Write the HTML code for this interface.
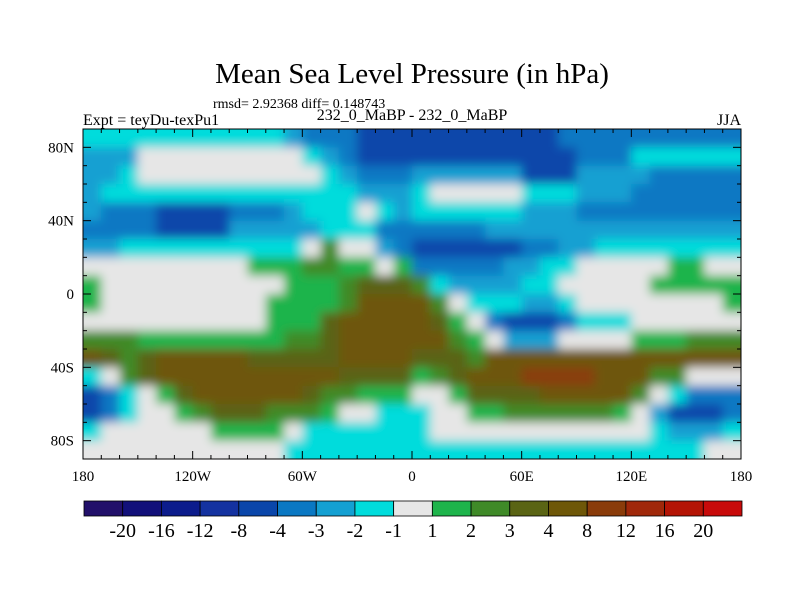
<!DOCTYPE html>
<html><head><meta charset="utf-8"><style>
body{margin:0;background:#fff;}
svg{display:block;font-family:"Liberation Serif",serif;}
</style></head><body>
<svg id="chart" width="800" height="600" viewBox="0 0 800 600">
<defs>
<clipPath id="plotclip"><rect x="83" y="129" width="658" height="330"/></clipPath>
<filter id="smooth" filterUnits="userSpaceOnUse" x="40" y="90" width="745" height="410"><feGaussianBlur stdDeviation="5"/></filter>
</defs>
<text x="412" y="83" text-anchor="middle" font-size="29">Mean Sea Level Pressure (in hPa)</text>
<text x="213" y="108" font-size="14">rmsd= 2.92368 diff= 0.148743</text>
<text x="83" y="125" font-size="16">Expt = teyDu-texPu1</text>
<text x="412" y="120" text-anchor="middle" font-size="16">232_0_MaBP - 232_0_MaBP</text>
<text x="741" y="125" text-anchor="end" font-size="16">JJA</text>
<g clip-path="url(#plotclip)"><rect x="83" y="129" width="658" height="330" fill="#e6e6e6"/><g filter="url(#smooth)"><g id="cells"></g></g></g>
<rect x="83" y="129" width="658" height="330" fill="none" stroke="#000" stroke-width="1"/>
<g id="ticks"></g>
<g id="colorbar"></g>
</svg>
<script>
const levels=[-20,-16,-12,-8,-4,-3,-2,-1,1,2,3,4,8,12,16,20];
const colors=["#22106a","#12107a","#0c1c8c","#1432a0","#0a46aa","#0a78c3","#14a0d2","#00dcdc","#e6e6e6","#1eb44b","#3f8a28","#5a6414","#6e5708","#8a3c0a","#a0280a","#b41405","#c80a0a"];
const xTickLabels=["180","120W","60W","0","60E","120E","180"];
const yTickLabels=["80N","40N","0","40S","80S"];
const yTickValues=[80,40,0,-40,-80];
// grid values: 18 lat rows (90N..90S, 10 deg), 36 lon cols (180W..180E, 10 deg)
const grid=[
[-1.5,-1.5,-1.5,-1.5,-1.5,-1.5,-1.5,-1.5,-1.5,-1.5,-1.5,-2.5,-3.5,-3.5,-3.5,-6,-6,-6, -6,-6,-6,-6,-6,-6,-6,-6,-3.5,-3.5,-3.5,-3.5,-3.5,-3.5,-3.5,-3.5,-3.5,-3.5],
[-2.5,-2.5,-2.5,0,0,0,0,0,0,0,0,0,-1.5,-2.5,-3.5,-6,-6,-6, -6,-6,-6,-6,-6,-6,-6,-6,-6,-3.5,-3.5,-3.5,-1.5,-1.5,-1.5,-1.5,-1.5,-1.5],
[-2.5,-2.5,-1.5,0,0,0,0,0,0,0,0,0,0,-1.5,-2.5,-3.5,-3.5,-3.5, -2.5,-2.5,-2.5,-2.5,-2.5,-2.5,-6,-6,-6,-2.5,-2.5,-2.5,-2.5,-3.5,-3.5,-3.5,-3.5,-3.5],
[-2.5,-1.5,-1.5,-1.5,-1.5,-1.5,-1.5,-1.5,-1.5,-1.5,-1.5,-1.5,-1.5,-1.5,-1.5,-2.5,-2.5,-2.5, -1.5,0,0,0,0,0,-1.5,-1.5,-1.5,-2.5,-2.5,-2.5,-3.5,-3.5,-3.5,-3.5,-3.5,-3.5],
[-2.5,-3.5,-3.5,-3.5,-6,-6,-6,-6,-3.5,-3.5,-3.5,-2.5,-1.5,-1.5,-1.5,0,-1.5,-2.5, -1.5,-1.5,-1.5,-1.5,-1.5,-1.5,-2.5,-2.5,-2.5,-3.5,-3.5,-3.5,-3.5,-3.5,-3.5,-3.5,-3.5,-3.5],
[-3.5,-3.5,-3.5,-3.5,-6,-6,-6,-6,-2.5,-2.5,-2.5,-2.5,-2.5,-1.5,-1.5,-1.5,-3.5,-3.5, -3.5,-3.5,-3.5,-3.5,-2.5,-2.5,-2.5,-2.5,-2.5,-2.5,-2.5,-2.5,-2.5,-2.5,-2.5,-2.5,-2.5,-2.5],
[-2.5,-2.5,-1.5,-1.5,-1.5,-1.5,-1.5,-1.5,-1.5,-1.5,-1.5,-1.5,0,2.5,0,0,-2.5,-3.5, -6,-6,-6,-6,-6,-6,-3.5,-3.5,-2.5,-2.5,-1.5,-1.5,-1.5,-1.5,-1.5,-1.5,-1.5,-1.5],
[0,0,0,0,0,0,0,0,0,1.5,1.5,1.5,2.5,2.5,1.5,1.5,0,1.5, -3.5,-3.5,-3.5,-3.5,-3.5,-2.5,-2.5,-1.5,-1.5,0,0,0,0,0,1.5,1.5,0,0],
[1.5,0,0,0,0,0,0,0,0,0,0,1.5,1.5,1.5,2.5,3.5,3.5,3.5, 2.5,-1.5,-2.5,-2.5,-2.5,-2.5,-1.5,-1.5,0,0,0,0,0,1.5,1.5,1.5,1.5,1.5],
[1.5,0,0,0,0,0,0,0,0,0,1.5,1.5,1.5,1.5,2.5,6,6,6, 6,2.5,0,-1.5,-1.5,-1.5,-2.5,-2.5,-1.5,0,0,0,0,0,0,0,0,1.5],
[0,0,0,0,0,0,0,0,0,0,1.5,1.5,1.5,3.5,6,6,6,6, 6,3.5,1.5,0,-3.5,-6,-6,-6,-3.5,-1.5,-1.5,-1.5,0,0,0,0,0,0],
[2.5,2.5,2.5,1.5,1.5,1.5,1.5,1.5,1.5,1.5,1.5,2.5,2.5,3.5,6,6,6,6, 6,6,2.5,1.5,0,-2.5,-2.5,-2.5,0,0,0,0,1.5,1.5,1.5,2.5,2.5,2.5],
[6,3.5,2.5,3.5,6,6,6,6,6,3.5,3.5,3.5,3.5,3.5,6,6,6,6, 3.5,3.5,3.5,2.5,6,6,6,6,6,6,6,6,6,6,6,6,6,6],
[-1.5,0,2.5,3.5,6,6,6,6,6,6,6,6,6,6,3.5,3.5,3.5,3.5, 1.5,2.5,3.5,6,6,6,10,10,10,10,6,6,6,2.5,2.5,0,0,0],
[-6,-3.5,-1.5,0,1.5,3.5,6,6,6,6,6,6,3.5,2.5,2.5,1.5,1.5,1.5, 0,0,1.5,3.5,3.5,3.5,3.5,6,6,6,6,6,2.5,0,-1.5,-3.5,-3.5,-3.5],
[-6,-3.5,-1.5,0,0,1.5,2.5,3.5,3.5,3.5,2.5,2.5,2.5,1.5,0,0,-1.5,-1.5, -1.5,0,0,1.5,1.5,2.5,2.5,2.5,2.5,2.5,2.5,1.5,0,-2.5,-6,-6,-6,-3.5],
[-1.5,0,0,0,0,0,0,1.5,1.5,1.5,1.5,0,-1.5,-1.5,-1.5,-1.5,-1.5,-1.5, -1.5,0,0,0,0,0,0,0,0,0,0,0,0,-1.5,-2.5,-2.5,-2.5,-1.5],
[0,0,0,0,0,0,0,0,0,0,0,-1.5,-1.5,-1.5,-1.5,-1.5,-1.5,-1.5, -1.5,-1.5,-1.5,-1.5,-1.5,-1.5,-1.5,-1.5,-1.5,-1.5,-1.5,-1.5,-1.5,-1.5,-1.5,-1.5,0,0]
];
const NS="http://www.w3.org/2000/svg";
const X0=83,X1=741,Y0=129,Y1=459;
function xScale(lon){return X0+(lon+180)/360*(X1-X0);}
function yScale(lat){return Y0+(90-lat)/180*(Y1-Y0);}
function colorFor(v){let i=0;while(i<levels.length&&v>=levels[i])i++;return colors[i];}
const cells=document.getElementById('cells');
const nR=grid.length,nC=grid[0].length;
for(let r=0;r<nR;r++){for(let c=0;c<nC;c++){
 const lon0=-180+c*360/nC,lon1=-180+(c+1)*360/nC,lat0=90-r*180/nR,lat1=90-(r+1)*180/nR;
 const e=document.createElementNS(NS,'rect');
 let xa=xScale(lon0),xb=xScale(lon1),ya=yScale(lat0),yb=yScale(lat1);
 if(c===0)xa-=20;if(c===nC-1)xb+=20;if(r===0)ya-=20;if(r===nR-1)yb+=20;
 e.setAttribute('x',xa);e.setAttribute('y',ya);e.setAttribute('width',xb-xa+0.6);e.setAttribute('height',yb-ya+0.6);
 e.setAttribute('fill',colorFor(grid[r][c]));
 
 
 cells.appendChild(e);
}}
const ticks=document.getElementById('ticks');
function line(x1,y1,x2,y2,g){const l=document.createElementNS(NS,'line');l.setAttribute('x1',x1);l.setAttribute('y1',y1);l.setAttribute('x2',x2);l.setAttribute('y2',y2);l.setAttribute('stroke','#000');l.setAttribute('stroke-width','1');


g.appendChild(l);}
for(let lon=-180;lon<=180;lon+=10){const x=xScale(lon);const L=(lon%60===0)?8:4;line(x,Y1,x,Y1-L,ticks);line(x,Y0,x,Y0+L,ticks);}
for(let lat=-90;lat<=90;lat+=10){const y=yScale(lat);const L=(lat%40===0)?8:4;line(X0,y,X0+L,y,ticks);line(X1,y,X1-L,y,ticks);}
xTickLabels.forEach((t,i)=>{const tx=document.createElementNS(NS,'text');tx.setAttribute('x',xScale(-180+60*i));tx.setAttribute('y',481);tx.setAttribute('text-anchor','middle');tx.setAttribute('font-size','15');tx.textContent=t;


ticks.appendChild(tx);});
yTickLabels.forEach((t,i)=>{const tx=document.createElementNS(NS,'text');tx.setAttribute('x',74);tx.setAttribute('y',yScale(yTickValues[i])+5);tx.setAttribute('text-anchor','end');tx.setAttribute('font-size','15');tx.textContent=t;


ticks.appendChild(tx);});
const cb=document.getElementById('colorbar');
const CB0=84,CB1=742,CBY=501,CBH=15,bw=(CB1-CB0)/colors.length;
colors.forEach((col,i)=>{const r=document.createElementNS(NS,'rect');r.setAttribute('x',CB0+i*bw);r.setAttribute('y',CBY);r.setAttribute('width',bw);r.setAttribute('height',CBH);r.setAttribute('fill',col);r.setAttribute('stroke','#000');r.setAttribute('stroke-width','0.8');


cb.appendChild(r);});
levels.forEach((lv,i)=>{const tx=document.createElementNS(NS,'text');tx.setAttribute('x',CB0+(i+1)*bw);tx.setAttribute('y',537);tx.setAttribute('text-anchor','middle');tx.setAttribute('font-size','20');tx.textContent=String(lv);


cb.appendChild(tx);});
</script>
</body></html>
